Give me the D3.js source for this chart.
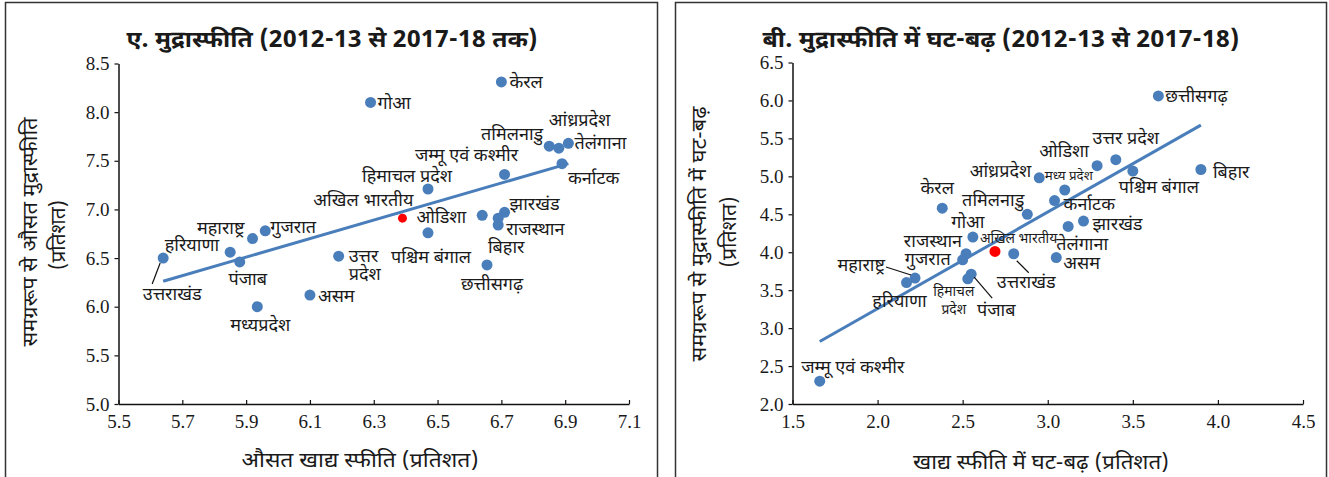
<!DOCTYPE html>
<html><head><meta charset="utf-8">
<script src="https://cdn.jsdelivr.net/npm/d3@7"></script>
<style>
body{margin:0;background:#fff}
svg text{font-family:"Noto Sans Devanagari","Lohit Devanagari","Noto Serif Devanagari","FreeSans","Noto Sans",sans-serif;fill:#1a1a1a}
.tick text{font-family:"Liberation Serif","Times New Roman",serif;font-size:19px}
</style></head><body><svg id="c" width="1329" height="477"></svg>
<script>
// Panel A: average inflation 2012-13 to 2017-18
const aStates = ["उत्तराखंड","हरियाणा","पंजाब","महाराष्ट्र","गुजरात","मध्यप्रदेश","असम","उत्तर प्रदेश","गोआ","हिमाचल प्रदेश","पश्चिम बंगाल","ओडिशा","झारखंड","बिहार","राजस्थान","छत्तीसगढ़","जम्मू एवं कश्मीर","केरल","तमिलनाडु","आंध्रप्रदेश","तेलंगाना","कर्नाटक"];
const aFood     = [5.64,5.85,5.88,5.92,5.96,5.935,6.10,6.19,6.29,6.47,6.47,6.64,6.71,6.69,6.69,6.655,6.71,6.70,6.85,6.88,6.91,6.89];
const aHeadline = [6.50,6.56,6.46,6.70,6.78,6.00,6.12,6.52,8.10,7.21,6.76,6.94,6.97,6.91,6.84,6.43,7.36,8.31,7.65,7.63,7.68,7.47];
const aAllIndia = {name:"अखिल भारतीय", food:6.39, headline:6.91};
const aXTicks = [5.5,5.7,5.9,6.1,6.3,6.5,6.7,6.9,7.1];
const aYTicks = [5.0,5.5,6.0,6.5,7.0,7.5,8.0,8.5];

// Panel B: volatility of inflation 2012-13 to 2017-18
const bStates = ["छत्तीसगढ़","उत्तर प्रदेश","ओडिशा","पश्चिम बंगाल","बिहार","मध्य प्रदेश","आंध्रप्रदेश","कर्नाटक","तमिलनाडु","झारखंड","तेलंगाना","असम","केरल","गोआ","उत्तराखंड","राजस्थान","गुजरात","महाराष्ट्र","हरियाणा","हिमाचल प्रदेश","पंजाब","जम्मू एवं कश्मीर"];
const bFood     = [3.65,3.40,3.29,3.50,3.90,3.10,2.95,3.04,2.88,3.21,3.12,3.05,2.38,2.56,2.80,2.52,2.50,2.22,2.17,2.53,2.55,1.66];
const bHeadline = [6.06,5.22,5.14,5.07,5.09,4.82,4.98,4.68,4.50,4.41,4.34,3.93,4.58,4.20,3.98,3.98,3.90,3.66,3.60,3.65,3.71,2.30];
const bAllIndia = {name:"अखिल भारतीय", food:2.69, headline:4.01};
const bXTicks = [1.5,2.0,2.5,3.0,3.5,4.0,4.5];
const bYTicks = [2.0,2.5,3.0,3.5,4.0,4.5,5.0,5.5,6.0,6.5];

// label placement relative to each dot: dx, dy, anchor, optional font size, line split, leader line
const aLabelPos = {
  "उत्तराखंड":{dx:9,dy:36,a:"middle",leader:[-3,5,-11,26]},
  "हरियाणा":{dx:-11,dy:-7,a:"end"},
  "पंजाब":{dx:8,dy:17,a:"middle"},
  "महाराष्ट्र":{dx:-8,dy:-11,a:"end"},
  "गुजरात":{dx:5,dy:-4,a:"start"},
  "मध्यप्रदेश":{dx:3,dy:18,a:"middle"},
  "असम":{dx:8,dy:1,a:"start"},
  "उत्तर प्रदेश":{dx:10,dy:0,a:"start",split:true,gap:18},
  "गोआ":{dx:7,dy:0,a:"start"},
  "हिमाचल प्रदेश":{dx:-21,dy:-13,a:"middle"},
  "पश्चिम बंगाल":{dx:3,dy:24,a:"middle"},
  "ओडिशा":{dx:-16,dy:2,a:"end"},
  "झारखंड":{dx:5,dy:-8,a:"start"},
  "बिहार":{dx:8,dy:29,a:"middle"},
  "राजस्थान":{dx:8,dy:4,a:"start"},
  "छत्तीसगढ़":{dx:5,dy:19,a:"middle"},
  "जम्मू एवं कश्मीर":{dx:-38,dy:-20,a:"middle"},
  "केरल":{dx:8,dy:0,a:"start"},
  "तमिलनाडु":{dx:-6,dy:-12,a:"end"},
  "आंध्रप्रदेश":{dx:-10,dy:-28,a:"start"},
  "तेलंगाना":{dx:6,dy:0,a:"start"},
  "कर्नाटक":{dx:6,dy:14,a:"start"},
  "अखिल भारतीय":{dx:11,dy:-18,a:"end"}
};
const bLabelPos = {
  "छत्तीसगढ़":{dx:7,dy:0,a:"start"},
  "उत्तर प्रदेश":{dx:10,dy:-22,a:"middle"},
  "ओडिशा":{dx:-33,dy:-15,a:"middle"},
  "बिहार":{dx:12,dy:2,a:"start"},
  "पश्चिम बंगाल":{dx:26,dy:16,a:"middle"},
  "मध्य प्रदेश":{dx:4,dy:-15,a:"middle",size:13},
  "आंध्रप्रदेश":{dx:-8,dy:-7,a:"end"},
  "कर्नाटक":{dx:9,dy:3,a:"start"},
  "तमिलनाडु":{dx:-3,dy:-14,a:"end"},
  "झारखंड":{dx:9,dy:3,a:"start"},
  "तेलंगाना":{dx:14,dy:17,a:"middle"},
  "असम":{dx:7,dy:5,a:"start"},
  "केरल":{dx:-5,dy:-20,a:"middle"},
  "गोआ":{dx:-5,dy:-15,a:"middle"},
  "उत्तराखंड":{dx:12.5,dy:28,a:"middle",leader:[3,7,15,19]},
  "राजस्थान":{dx:-4,dy:-13,a:"end"},
  "गुजरात":{dx:-12,dy:-1,a:"end"},
  "महाराष्ट्र":{dx:-30,dy:-13,a:"end",leader:[-29,-11,-4,-3]},
  "हरियाणा":{dx:-7,dy:18,a:"middle"},
  "हिमाचल प्रदेश":{dx:-14,dy:12,a:"middle",size:13.5,split:true,gap:18},
  "पंजाब":{dx:25,dy:36,a:"middle",leader:[3,3,21,24]},
  "जम्मू एवं कश्मीर":{dx:33,dy:-14,a:"middle"},
  "अखिल भारतीय":{dx:-15,dy:-13,a:"start",size:13.5}
};

const svg = d3.select("#c");
const BLUE = "#4a7ebb";

function olsLine(xs, ys){
  const mx = d3.mean(xs), my = d3.mean(ys);
  let sxy = 0, sxx = 0;
  xs.forEach((x,i)=>{ sxy += (x-mx)*(ys[i]-my); sxx += (x-mx)*(x-mx); });
  const b = sxy/sxx, a = my - b*mx;
  const [x0,x1] = d3.extent(xs);
  return [[x0, a+b*x0],[x1, a+b*x1]];
}

function panel(cfg){
  const g = svg.append("g");
  g.append("rect").attr("x",cfg.frame[0]).attr("y",cfg.frame[1]).attr("width",cfg.frame[2]).attr("height",cfg.frame[3])
    .attr("fill","none").attr("stroke","#333").attr("stroke-width",1.5);

  const x = d3.scaleLinear().domain(d3.extent(cfg.xTicks)).range(cfg.xRange);
  const y = d3.scaleLinear().domain(d3.extent(cfg.yTicks)).range(cfg.yRange);

  const xa = g.append("g").attr("transform",`translate(0,${cfg.yRange[0]})`)
    .call(d3.axisBottom(x).tickValues(cfg.xTicks).tickFormat(d3.format(".1f")).tickSizeInner(-4).tickSizeOuter(0).tickPadding(10.5));
  const ya = g.append("g").attr("transform",`translate(${cfg.xRange[0]},0)`)
    .call(d3.axisLeft(y).tickValues(cfg.yTicks).tickFormat(d3.format(".1f")).tickSizeInner(4).tickSizeOuter(0).tickPadding(5));
  [xa,ya].forEach(a=>{
    a.select(".domain").attr("stroke","#111").attr("stroke-width",1.5);
    a.selectAll(".tick line").attr("stroke","#111").attr("stroke-width",1.2);
    a.selectAll(".tick text").attr("fill","#222");
  });

  // fitted line through the states
  const fit = olsLine(cfg.food, cfg.headline);
  g.append("path").attr("d", d3.line().x(d=>x(d[0])).y(d=>y(d[1]))(fit))
    .attr("stroke",BLUE).attr("stroke-width",3).attr("fill","none");

  const pts = cfg.states.map((s,i)=>({name:s, fx:cfg.food[i], hy:cfg.headline[i]}));
  g.selectAll("circle.st").data(pts).join("circle").attr("class","st")
    .attr("cx",d=>x(d.fx)).attr("cy",d=>y(d.hy)).attr("r",5.5).attr("fill",BLUE);
  g.append("circle").attr("cx",x(cfg.allIndia.food)).attr("cy",y(cfg.allIndia.headline))
    .attr("r",cfg.redR).attr("fill","#ff0000");

  const all = pts.concat([{name:cfg.allIndia.name, fx:cfg.allIndia.food, hy:cfg.allIndia.headline}]);
  all.forEach(d=>{
    const L = cfg.labels[d.name]; if(!L) return;
    const px = x(d.fx), py = y(d.hy);
    const t = g.append("text").attr("text-anchor",L.a).attr("font-size",L.size||cfg.labelSize)
      .attr("transform",`translate(${px+L.dx},${py+L.dy}) scale(${cfg.squeeze},1)`);
    const lines = L.split ? d.name.split(" ") : [d.name];
    lines.forEach((s,k)=>t.append("tspan").attr("x",0).attr("y",k*(L.gap||0)).attr("dy","0.35em").text(s));
    if(L.leader){
      g.append("line").attr("x1",px+L.leader[0]).attr("y1",py+L.leader[1]).attr("x2",px+L.leader[2]).attr("y2",py+L.leader[3])
        .attr("stroke","#111").attr("stroke-width",1.2);
    }
  });

  g.append("text").attr("x",cfg.title[1]).attr("y",cfg.title[2]).attr("text-anchor","middle")
    .attr("font-size",23).attr("font-weight","bold").attr("textLength",cfg.title[3]).attr("lengthAdjust","spacingAndGlyphs")
    .text(cfg.title[0]);
  g.append("text").attr("x",cfg.xTitle[1]).attr("y",cfg.xTitle[2]).attr("text-anchor","middle")
    .attr("font-size",20).attr("textLength",cfg.xTitle[3]).attr("lengthAdjust","spacingAndGlyphs").text(cfg.xTitle[0]);
  cfg.yTitle.forEach(t=>{
    g.append("text").attr("transform",`translate(${t[1]},${t[2]}) rotate(-90)`).attr("text-anchor","middle")
      .attr("dy","0.35em").attr("font-size",20).attr("textLength",t[3]).attr("lengthAdjust","spacingAndGlyphs").text(t[0]);
  });
}

panel({
  frame:[5.5,2.5,652,480],
  xTicks:aXTicks, yTicks:aYTicks, xRange:[118.5,629], yRange:[404,63.5],
  states:aStates, food:aFood, headline:aHeadline, allIndia:aAllIndia, labels:aLabelPos,
  labelSize:17.5, squeeze:1.03, redR:4.5,
  title:["ए. मुद्रास्फीति (2012-13 से 2017-18 तक)",332,47,411],
  xTitle:["औसत खाद्य स्फीति  (प्रतिशत)",360,467,237],
  yTitle:[["समग्ररूप से औसत मुद्रास्फीति",30,232,229],["(प्रतिशत)",58,235,70]]
});
panel({
  frame:[675.5,2.5,651,480],
  xTicks:bXTicks, yTicks:bYTicks, xRange:[792.5,1303], yRange:[404,62.5],
  states:bStates, food:bFood, headline:bHeadline, allIndia:bAllIndia, labels:bLabelPos,
  labelSize:17.5, squeeze:1.03, redR:5.5,
  title:["बी. मुद्रास्फीति में घट-बढ़ (2012-13 से 2017-18)",1001,47,477],
  xTitle:["खाद्य स्फीति में घट-बढ़ (प्रतिशत)",1041,469,256],
  yTitle:[["समग्ररूप से मुद्रास्फीति में घट-बढ़",699,234,255],["(प्रतिशत)",729,232,71]]
});
</script></body></html>
